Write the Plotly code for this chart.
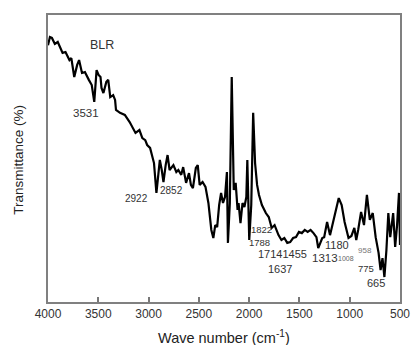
import plotly.graph_objects as go

# Wavenumber (cm^-1) and transmittance (arbitrary %)
wavenumber = [4000, 3981, 3961, 3932, 3903, 3884, 3855, 3826, 3787, 3768, 3739, 3710, 3691, 3662,
              3633, 3594, 3565, 3540, 3517, 3497, 3478, 3468, 3449, 3420, 3401, 3381, 3352, 3333,
              3324, 3284, 3236, 3188, 3159, 3130, 3091, 3062, 3033, 3014, 2985, 2965, 2946, 2922,
              2907, 2888, 2869, 2852, 2830, 2811, 2791, 2772, 2753, 2724, 2704, 2675, 2656, 2627,
              2598, 2579, 2559, 2530, 2511, 2492, 2463, 2434, 2405, 2376, 2356, 2337, 2318, 2298,
              2279, 2260, 2240, 2221, 2211, 2192, 2173, 2153, 2134, 2115, 2105, 2086, 2066, 2047,
              2028, 2018, 1999, 1979, 1960, 1941, 1921, 1902, 1873, 1834, 1805, 1776, 1747, 1708,
              1679, 1650, 1621, 1592, 1563, 1534, 1505, 1476, 1447, 1418, 1389, 1360, 1331, 1313,
              1273, 1254, 1225, 1196, 1157, 1128, 1109, 1080, 1051, 1012, 983, 954, 935, 916, 887,
              858, 829, 800, 771, 742, 713, 693, 674, 655, 635, 616, 597, 568, 548, 529, 510, 500]
transmittance = [89.5, 92.3, 92.0, 89.9, 90.6, 88.9, 86.8, 87.1, 84.3, 85.0, 78.4, 82.6, 84.3, 79.8,
                 80.1, 77.4, 75.6, 69.7, 80.8, 79.1, 78.4, 74.6, 72.8, 76.7, 77.4, 71.4, 72.1, 70.4,
                 66.9, 65.9, 65.2, 62.7, 61.0, 58.9, 59.9, 57.1, 56.4, 54.7, 53.7, 51.2, 48.4, 38.0,
                 44.3, 49.5, 46.0, 41.8, 47.7, 51.2, 46.0, 46.7, 47.7, 45.3, 46.0, 44.3, 47.0, 41.5,
                 44.9, 40.8, 39.7, 46.7, 47.7, 40.8, 41.8, 40.1, 34.5, 25.1, 22.3, 26.8, 26.1, 33.8,
                 38.0, 34.5, 36.6, 45.3, 20.6, 34.5, 78.4, 39.0, 41.5, 32.1, 34.5, 27.5, 34.5, 33.1,
                 36.6, 49.5, 21.6, 33.8, 65.9, 48.4, 40.8, 37.3, 33.8, 31.0, 29.6, 25.8, 26.8, 23.3,
                 21.6, 22.3, 20.6, 20.9, 22.3, 22.6, 24.4, 24.0, 25.1, 24.4, 25.1, 24.0, 22.6, 18.8,
                 22.3, 22.6, 27.9, 23.3, 29.6, 33.8, 36.2, 33.8, 27.9, 22.3, 23.0, 25.8, 21.6, 25.1,
                 31.4, 26.8, 37.3, 28.6, 31.0, 22.6, 17.1, 11.1, 15.3, 8.7, 18.1, 31.0, 22.6, 31.0,
                 19.2, 26.8, 38.0, 19.9]

# Peak labels: text, x (cm^-1), y (transmittance), font size, colour
label_text = ["BLR", "3531", "2922", "2852", "1822", "1788", "17141455", "1637", "1180", "1313",
              "1008", "958", "775", "665"]
label_x = [3468, 3623, 3120, 2772, 1882, 1902, 1670, 1689, 1128, 1244, 1041, 848, 838, 742]
label_y = [89.5, 65.9, 35.9, 39.0, 25.4, 20.6, 16.7, 11.5, 19.9, 15.3, 15.3, 17.8, 11.8, 6.6]
label_size = [12.5, 11.5, 10, 10, 9.5, 9.5, 11, 11, 11, 11.5, 7, 8, 9.5, 11]
label_color = ["#333", "#333", "#333", "#333", "#333", "#333", "#333", "#333", "#333", "#333",
               "#666", "#777", "#333", "#333"]

xticks = [4000, 3500, 3000, 2500, 2000, 1500, 1000, 500]

FONT = "Arial, Liberation Sans, sans-serif"

fig = go.Figure()
fig.add_trace(go.Scatter(x=wavenumber, y=transmittance, mode="lines",
                         line=dict(color="black", width=2.2), showlegend=False))

for t, x, y, s, c in zip(label_text, label_x, label_y, label_size, label_color):
    fig.add_annotation(x=x, y=y, xref="x", yref="y", text=t, showarrow=False,
                       xanchor="center", yanchor="middle",
                       font=dict(family=FONT, size=s, color=c))

fig.add_annotation(x=0.5, y=-0.122, xref="paper", yref="paper",
                   xanchor="center", yanchor="middle",
                   text="Wave number (cm<sup>-1</sup>)", showarrow=False,
                   font=dict(family=FONT, size=14.5, color="#222"))
fig.add_annotation(x=-0.083, y=0.495, xref="paper", yref="paper", textangle=-90,
                   xanchor="center", yanchor="middle",
                   text="Transmittance (%)", showarrow=False,
                   font=dict(family=FONT, size=13.5, color="#222"))

fig.update_layout(
    width=419, height=345,
    margin=dict(l=48, r=9, t=15, b=43),
    paper_bgcolor="white", plot_bgcolor="white",
    xaxis=dict(range=[4000, 500], tickvals=xticks, ticks="inside", ticklen=5,
               tickcolor="#777", tickwidth=1.5, showgrid=False, zeroline=False,
               showline=True, mirror=True, linecolor="#808080", linewidth=1.8,
               tickfont=dict(family=FONT, size=12, color="#333")),
    yaxis=dict(range=[0, 100], showticklabels=False, ticks="", showgrid=False,
               zeroline=False, showline=True, mirror=True, linecolor="#808080",
               linewidth=1.8),
)

fig.write_html("out.html")
